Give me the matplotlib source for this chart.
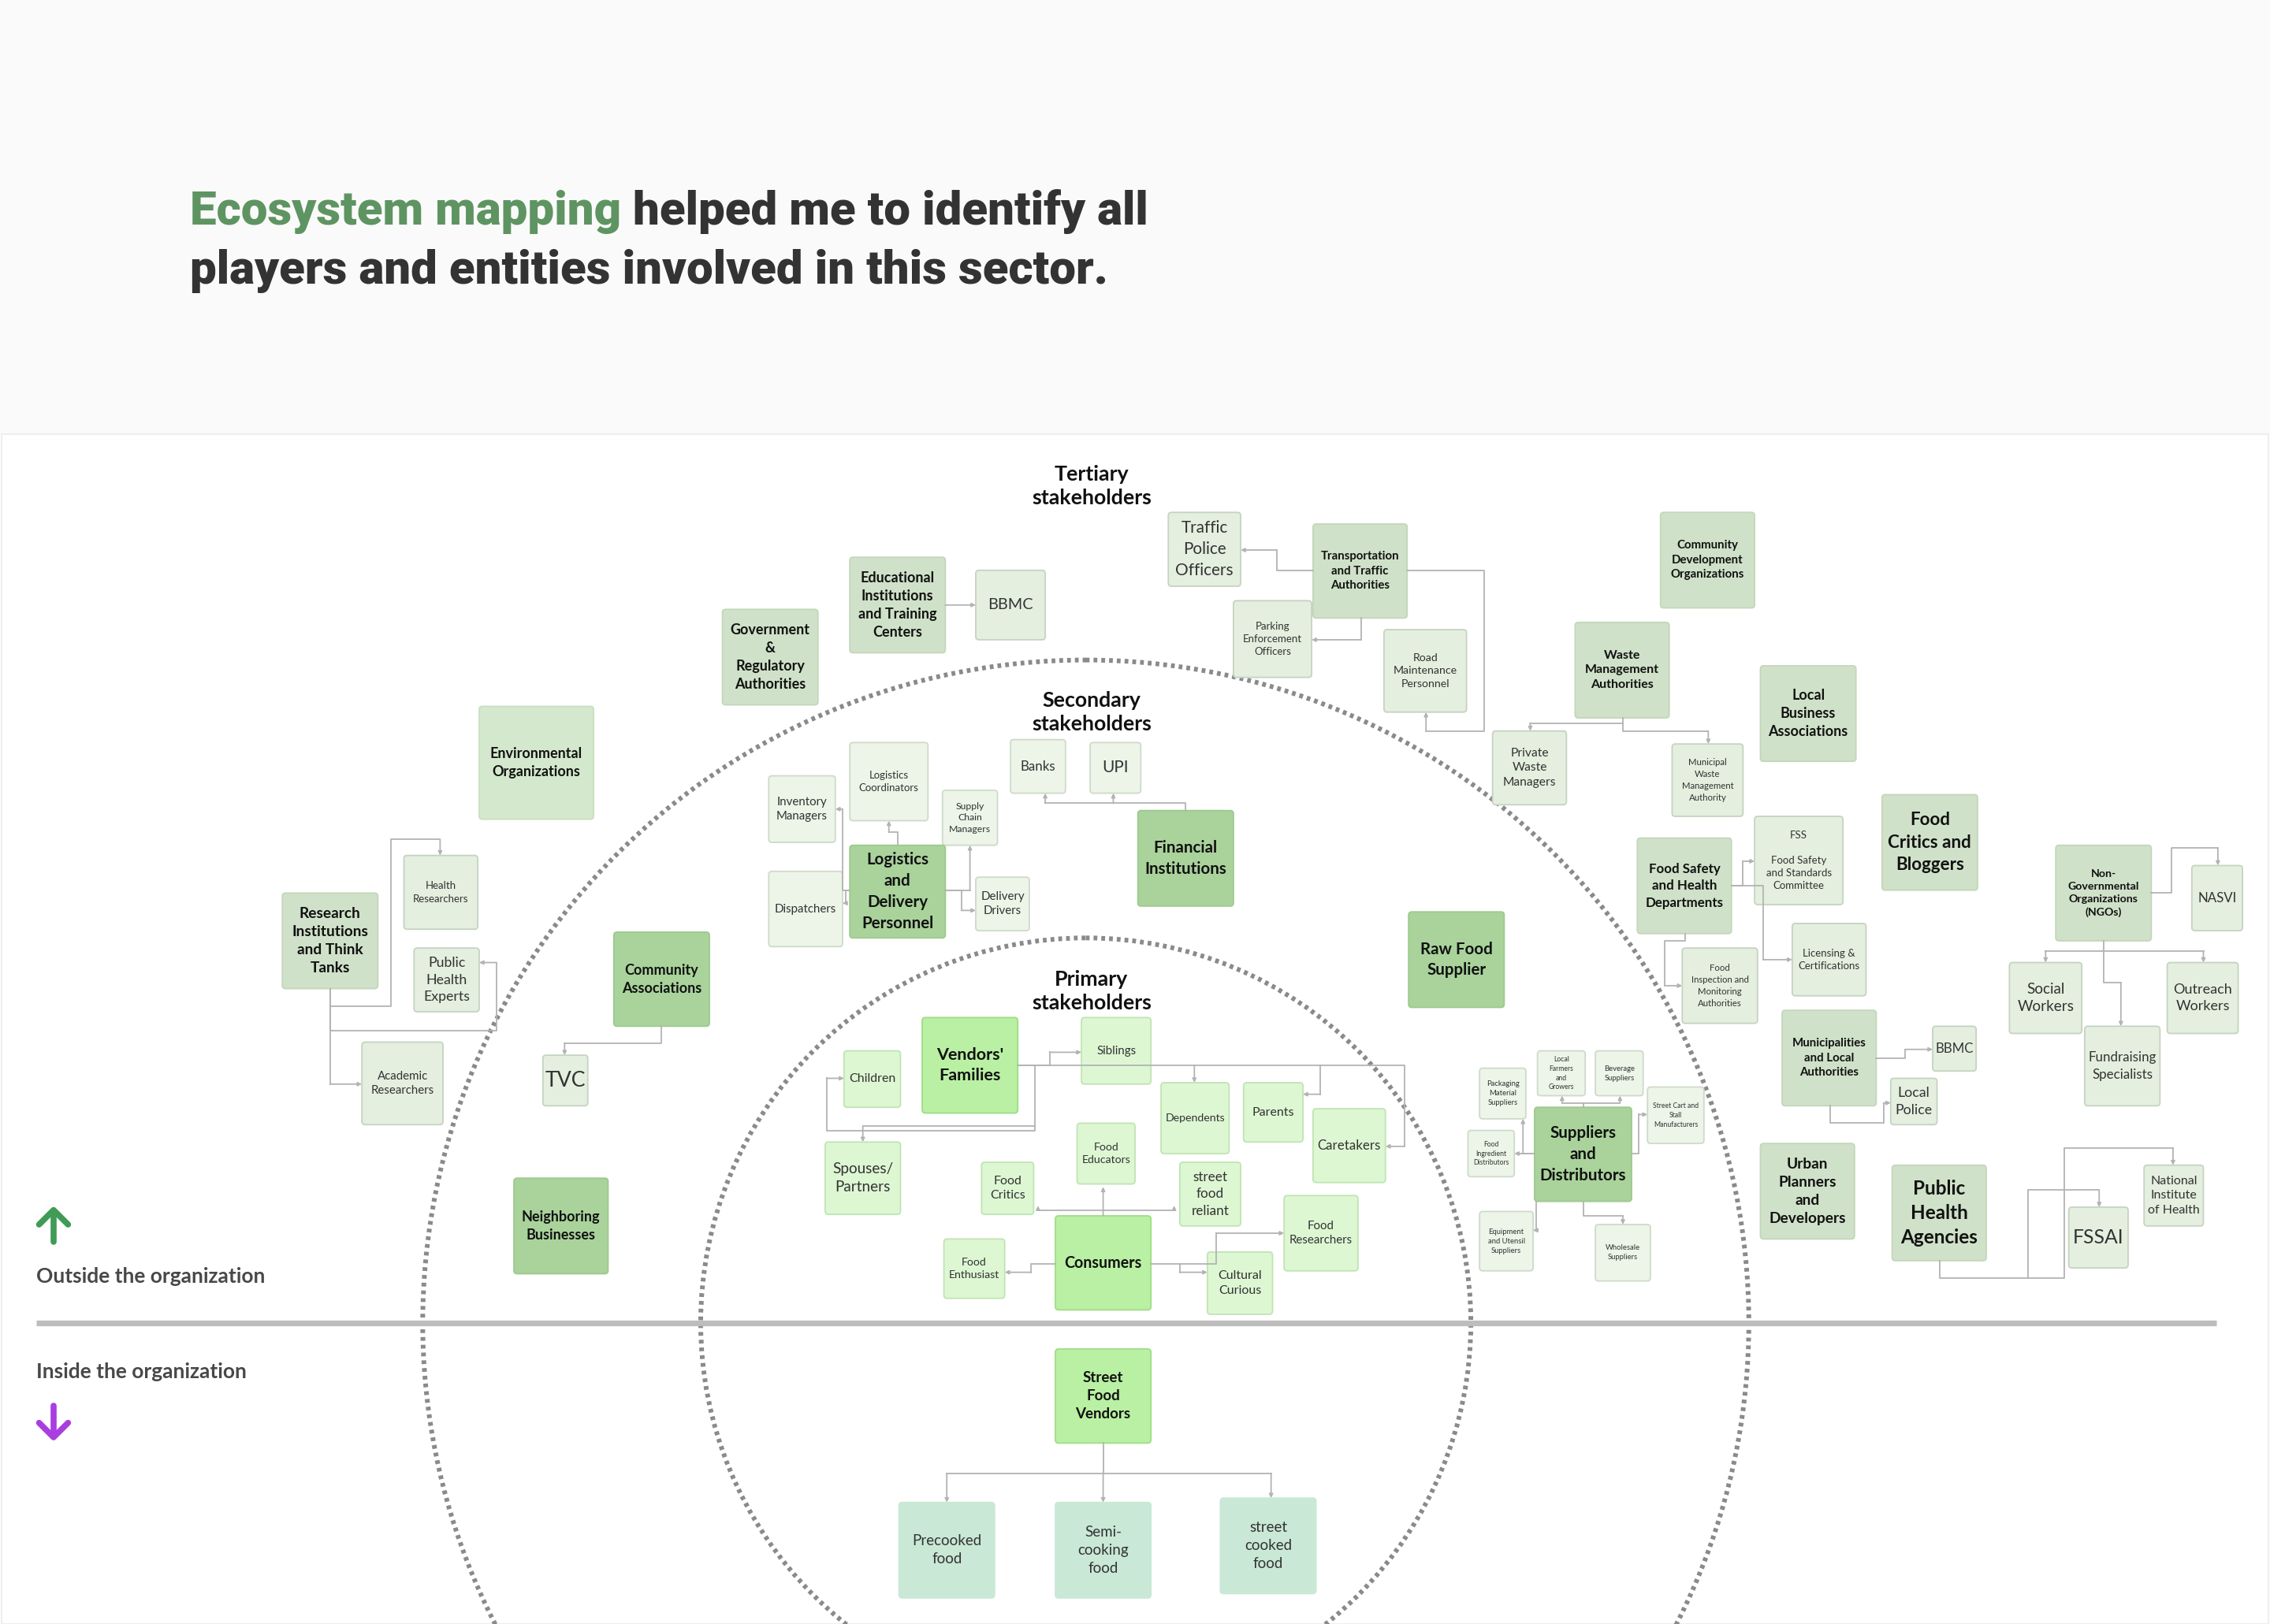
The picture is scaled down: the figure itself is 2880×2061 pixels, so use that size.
import matplotlib
matplotlib.use("Agg")
import matplotlib.pyplot as plt
from matplotlib import font_manager
from matplotlib.patches import FancyBboxPatch, Circle, Rectangle

# ---- chart content ----
title_green = "Ecosystem mapping"
title_rest_1 = " helped me to identify all"
title_line_2 = "players and entities involved in this sector."

ring_labels = ["Tertiary\nstakeholders", "Secondary\nstakeholders", "Primary\nstakeholders"]
side_labels = ["Outside the organization", "Inside the organization"]

labels = [
    # tertiary
    "Government\n&\nRegulatory\nAuthorities", "Educational\nInstitutions\nand Training\nCenters", "BBMC",
    "Traffic\nPolice\nOfficers", "Transportation\nand Traffic\nAuthorities", "Parking\nEnforcement\nOfficers",
    "Road\nMaintenance\nPersonnel", "Community\nDevelopment\nOrganizations", "Waste\nManagement\nAuthorities",
    "Private\nWaste\nManagers", "Municipal\nWaste\nManagement\nAuthority", "Local\nBusiness\nAssociations",
    "Environmental\nOrganizations", "Research\nInstitutions\nand Think\nTanks", "Health\nResearchers",
    "Public\nHealth\nExperts", "Academic\nResearchers", "Community\nAssociations", "TVC",
    "Neighboring\nBusinesses", "Food Safety\nand Health\nDepartments",
    "FSS\n\nFood Safety\nand Standards\nCommittee", "Food\nInspection and\nMonitoring\nAuthorities",
    "Licensing &\nCertifications", "Food\nCritics and\nBloggers", "Non-\nGovernmental\nOrganizations\n(NGOs)",
    "NASVI", "Social\nWorkers", "Outreach\nWorkers", "Fundraising\nSpecialists",
    "Municipalities\nand Local\nAuthorities", "BBMC", "Local\nPolice", "Urban\nPlanners\nand\nDevelopers",
    "Public\nHealth\nAgencies", "FSSAI", "National\nInstitute\nof Health",
    # secondary
    "Logistics\nCoordinators", "Inventory\nManagers", "Supply\nChain\nManagers",
    "Logistics\nand\nDelivery\nPersonnel", "Dispatchers", "Delivery\nDrivers", "Banks", "UPI",
    "Financial\nInstitutions", "Raw Food\nSupplier", "Suppliers\nand\nDistributors",
    "Packaging\nMaterial\nSuppliers", "Local\nFarmers\nand\nGrowers", "Beverage\nSuppliers",
    "Street Cart and\nStall\nManufacturers", "Food\nIngredient\nDistributors",
    "Equipment\nand Utensil\nSuppliers", "Wholesale\nSuppliers",
    # primary
    "Vendors'\nFamilies", "Children", "Siblings", "Dependents", "Parents", "Caretakers",
    "Spouses/\nPartners", "Food\nEducators", "Food\nCritics", "street\nfood\nreliant", "Consumers",
    "Food\nEnthusiast", "Cultural\nCurious", "Food\nResearchers",
    # inside the organization
    "Street\nFood\nVendors", "Precooked\nfood", "Semi-\ncooking\nfood", "street\ncooked\nfood",
]

groups = [
    "ter", "ter", "terl", "terl", "ter", "terl", "terl", "ter", "ter", "terl", "terl", "ter",
    "env", "ter", "terl", "terl", "terl", "dark", "terl", "dark", "ter", "terl", "terl", "terl",
    "ter", "ter", "terl", "terl", "terl", "terl", "ter", "terl", "terl", "ter", "ter", "terl", "terl",
    "secl", "secl", "secl", "dark", "secl", "secl", "secl", "secl", "dark", "dark", "dark",
    "secl", "secl", "secl", "secl", "secl", "secl", "secl",
    "pri", "pril", "pril", "pril", "pril", "pril", "pril", "pril", "pril", "pril", "pri",
    "pril", "pril", "pril",
    "pri", "mint", "mint", "mint",
]

# ---- layout (reference pixel frame 1568 x 1122) ----
boxes = [
    (499, 421, 565, 487), (587, 385, 653, 451), (674, 394, 722, 442),
    (807, 354, 857, 405), (907, 362, 972, 427), (852, 415, 906, 468),
    (956, 435, 1013, 492), (1147, 354, 1212, 420), (1088, 430, 1153, 496),
    (1031, 505, 1082, 556), (1155, 514, 1204, 564), (1216, 460, 1282, 526),
    (331, 488, 410, 566), (195, 617, 261, 683), (279, 591, 330, 642),
    (286, 655, 331, 699), (250, 720, 306, 777), (424, 644, 490, 709), (375, 729, 406, 764),
    (355, 814, 420, 880), (1131, 579, 1196, 645),
    (1212, 564, 1273, 625), (1162, 655, 1214, 707),
    (1238, 638, 1289, 688), (1300, 549, 1366, 615), (1420, 584, 1486, 650),
    (1514, 598, 1549, 643), (1388, 665, 1438, 714), (1497, 665, 1546, 714), (1440, 709, 1492, 764),
    (1231, 698, 1296, 764), (1335, 709, 1365, 740), (1306, 745, 1338, 777), (1216, 790, 1281, 856),
    (1307, 805, 1372, 871), (1429, 834, 1470, 876), (1481, 805, 1522, 847),
    (587, 513, 641, 567), (531, 536, 577, 582), (651, 546, 689, 584),
    (587, 584, 653, 648), (531, 602, 582, 654), (674, 606, 711, 643), (698, 511, 736, 548), (753, 513, 788, 548),
    (786, 560, 852, 626), (973, 630, 1039, 696), (1060, 765, 1127, 830),
    (1022, 738, 1054, 773), (1062, 726, 1095, 757), (1102, 726, 1135, 757),
    (1138, 751, 1177, 790), (1014, 781, 1046, 813),
    (1022, 837, 1059, 878), (1102, 846, 1140, 885),
    (637, 703, 703, 769), (583, 726, 622, 765), (747, 703, 795, 749), (802, 748, 849, 797),
    (859, 748, 900, 789), (907, 766, 957, 817),
    (570, 789, 622, 839), (744, 776, 784, 818), (678, 803, 714, 839), (815, 803, 857, 847),
    (729, 840, 795, 905), (652, 856, 694, 897), (834, 865, 879, 908), (887, 826, 938, 878),
    (729, 932, 795, 997), (621, 1038, 687, 1104), (729, 1038, 795, 1104), (843, 1035, 909, 1101),
]

font_px = [
    9.8, 9.8, 10.8, 11.3, 8.2, 7.2, 7.7, 8.2, 8.7, 8.5, 6.2, 9.8,
    9.8, 10.4, 7.2, 9.7, 8.2, 9.8, 14.5, 9.8, 9.2,
    7.2, 6.2, 7.2, 12.2, 7.7, 9.2, 10.3, 9.8, 9.2,
    8.2, 9.2, 9.7, 10.4, 13.2, 13.5, 8.7,
    7.2, 8.2, 6.7, 11.2, 8.2, 8.2, 9.2, 11.3, 11.2, 11.2, 11.2,
    5.2, 4.7, 5.2, 4.7, 4.7, 5.2, 5.2,
    11.7, 8.7, 8.2, 7.7, 8.7, 9.2, 10.3, 7.7, 8.7, 9.3, 10.7, 7.7, 8.7, 8.2,
    10.2, 10.2, 10.2, 10.2,
]

connectors = [
    [(653, 418), (674, 418)],
    [(907, 394), (882, 394), (882, 380), (857, 380)],
    [(940, 427), (940, 442), (906, 442)],
    [(972, 394), (1025, 394), (1025, 505), (985, 505), (985, 492)],
    [(1121, 496), (1121, 500), (1057, 500), (1057, 505)],
    [(1121, 500), (1121, 505), (1180, 505), (1180, 514)],
    [(1196, 612), (1204, 612), (1204, 595), (1212, 595)],
    [(1196, 612), (1218, 612), (1218, 663), (1238, 663)],
    [(1164, 645), (1164, 650), (1150, 650), (1150, 681), (1162, 681)],
    [(1486, 617), (1500, 617), (1500, 586), (1532, 586), (1532, 598)],
    [(1453, 650), (1453, 657), (1413, 657), (1413, 665)],
    [(1453, 657), (1522, 657), (1522, 665)],
    [(1453, 657), (1453, 679), (1465, 679), (1465, 709)],
    [(1296, 731), (1316, 731), (1316, 725), (1335, 725)],
    [(1264, 764), (1264, 776), (1301, 776), (1301, 762), (1306, 762)],
    [(1340, 871), (1340, 883), (1426, 883), (1426, 793), (1501, 793), (1501, 805)],
    [(1401, 883), (1401, 822), (1450, 822), (1450, 834)],
    [(1094, 765), (1094, 762), (1079, 762), (1079, 757)],
    [(1094, 762), (1119, 762), (1119, 757)],
    [(1060, 797), (1052, 797), (1052, 773)],
    [(1060, 797), (1046, 797)],
    [(1061, 830), (1061, 850), (1059, 850)],
    [(1127, 797), (1132, 797), (1132, 770), (1138, 770)],
    [(1094, 830), (1094, 840), (1121, 840), (1121, 846)],
    [(228, 683), (228, 695), (270, 695), (270, 580), (304, 580), (304, 591)],
    [(228, 683), (228, 712), (343, 712), (343, 665), (331, 665)],
    [(228, 683), (228, 749), (250, 749)],
    [(457, 709), (457, 721), (390, 721), (390, 729)],
    [(620, 584), (620, 575), (614, 575), (614, 567)],
    [(587, 615), (582, 615), (582, 559), (577, 559)],
    [(587, 615), (584, 615), (584, 624), (582, 624)],
    [(653, 615), (670, 615), (670, 584)],
    [(653, 615), (664, 615), (664, 629), (674, 629)],
    [(819, 560), (819, 555), (722, 555), (722, 548)],
    [(769, 555), (769, 548)],
    [(703, 736), (725, 736), (725, 727), (747, 727)],
    [(703, 736), (970, 736), (970, 792), (957, 792)],
    [(825, 736), (825, 748)],
    [(912, 736), (912, 756), (900, 756)],
    [(703, 736), (715, 736), (715, 778), (596, 778), (596, 789)],
    [(715, 778), (715, 781), (571, 781), (571, 745), (583, 745)],
    [(762, 840), (762, 820)],
    [(762, 836), (717, 836), (717, 833)],
    [(762, 836), (811, 836), (811, 833)],
    [(729, 873), (712, 873), (712, 879), (694, 879)],
    [(795, 873), (815, 873), (815, 879), (834, 879)],
    [(815, 873), (840, 873), (840, 852), (887, 852)],
    [(762, 997), (762, 1018), (654, 1018), (654, 1038)],
    [(762, 1018), (762, 1038)],
    [(762, 1018), (878, 1018), (878, 1035)],
]

styles = {
    "ter":  dict(fc="#cfe1c8", ec="#c3d7bb", bold=True),
    "env":  dict(fc="#d3e8cc", ec="#c9dfc1", bold=True),
    "dark": dict(fc="#a9d39b", ec="#9dc98e", bold=True),
    "pri":  dict(fc="#b9f0a3", ec="#9edd86", bold=True),
    "terl": dict(fc="#e4efdf", ec="#c6d3c1", bold=False),
    "secl": dict(fc="#ecf5e8", ec="#cfdacb", bold=False),
    "pril": dict(fc="#ddf7d3", ec="#c0e4b3", bold=False),
    "mint": dict(fc="#c9e8d6", ec="#c9e8d6", bold=False),
}

W, H = 1568, 1122
PT = 2880 / W * 0.72   # reference px -> points
FONT = "Lato"
LINE = "#b3b3b3"

# heaviest installed weight for the headline
heavy = [(f.weight, f.name) for f in font_manager.fontManager.ttflist
         if f.name in ("Lato", "Roboto", "Inter", "Open Sans", "Noto Sans")
         and isinstance(f.weight, int) and f.style == "normal"]
TITLE_W, TITLE_FONT = max(heavy) if heavy else (700, FONT)

fig = plt.figure(figsize=(28.8, 20.61), dpi=100)
ax = fig.add_axes([0, 0, 1, 1])
ax.set_xlim(0, W)
ax.set_ylim(H, 0)
ax.axis("off")

# backgrounds
ax.add_patch(Rectangle((0, 0), W, 300, fc="#fafafa", ec="none", zorder=0))
ax.add_patch(Rectangle((1, 300), W - 2, H - 300, fc="white", ec="#eeeeee", lw=1.5, zorder=0))

# title
r = fig.canvas.get_renderer()
tkw = dict(family=TITLE_FONT, weight=TITLE_W, va="baseline", ha="left", zorder=5)
t2 = ax.text(131, 196, title_line_2, fontsize=44, color="#333333", **tkw)
w = t2.get_window_extent(r).width
size = 44 * (634 * 2880 / W) / w
t2.set_fontsize(size)
t1 = ax.text(131, 155, title_green, fontsize=size, color="#5e9461", **tkw)
bb = t1.get_window_extent(r)
x_end = ax.transData.inverted().transform((bb.x1, bb.y0))[0]
ax.text(x_end, 155, title_rest_1, fontsize=size, color="#333333", **tkw)

# stakeholder rings
for rad in (458, 266):
    ax.add_patch(Circle((750, 914), rad, fill=False, ec="#8a8a8a", lw=4.3,
                        ls=(0, (0.8, 0.85)), capstyle="butt", zorder=1))

# inside / outside divider
ax.plot([25, 1531], [914, 914], color="#bdbdbd", lw=5.2, solid_capstyle="butt", zorder=1)

for txt, y in zip(ring_labels, (336, 492, 685)):
    ax.text(754, y, txt, fontsize=14.6 * PT, family=FONT, weight="bold", color="#111111",
            ha="center", va="center", linespacing=1.3, zorder=5)

for txt, y in zip(side_labels, (882, 948)):
    ax.text(25, y, txt, fontsize=14.4 * PT, family=FONT, weight="bold",
            color="#484848", ha="left", va="center", zorder=5)

# arrows
kw = dict(lw=5.5, solid_capstyle="round", solid_joinstyle="round", zorder=5)
ax.plot([37, 37], [858, 837], color="#3f9b56", **kw)
ax.plot([27, 37, 47], [846, 836, 846], color="#3f9b56", **kw)
ax.plot([37, 37], [971, 992], color="#a93ee0", **kw)
ax.plot([27, 37, 47], [983, 993, 983], color="#a93ee0", **kw)

# nodes
for lab, g, (x0, y0, x1, y1), fpx in zip(labels, groups, boxes, font_px):
    st = styles[g]
    ax.add_patch(FancyBboxPatch((x0, y0), x1 - x0, y1 - y0,
                                boxstyle="round,pad=0,rounding_size=2.2",
                                fc=st["fc"], ec=st["ec"], lw=1.3, zorder=3))
    ax.text((x0 + x1) / 2, (y0 + y1) / 2, lab, fontsize=fpx * PT, family=FONT,
            weight="bold" if st["bold"] else "normal",
            color="#111111" if st["bold"] else "#333333",
            ha="center", va="center", multialignment="center", linespacing=1.42, zorder=6)

# connectors
for pts in connectors:
    xs = [p[0] for p in pts]
    ys = [p[1] for p in pts]
    if len(pts) > 2:
        ax.plot(xs[:-1], ys[:-1], color=LINE, lw=1.3, zorder=4)
    ax.annotate("", xy=pts[-1], xytext=pts[-2],
                arrowprops=dict(arrowstyle="-|>", color=LINE, lw=1.3, mutation_scale=7,
                                shrinkA=0, shrinkB=0), zorder=4)

fig.savefig("out.png", dpi=100)
